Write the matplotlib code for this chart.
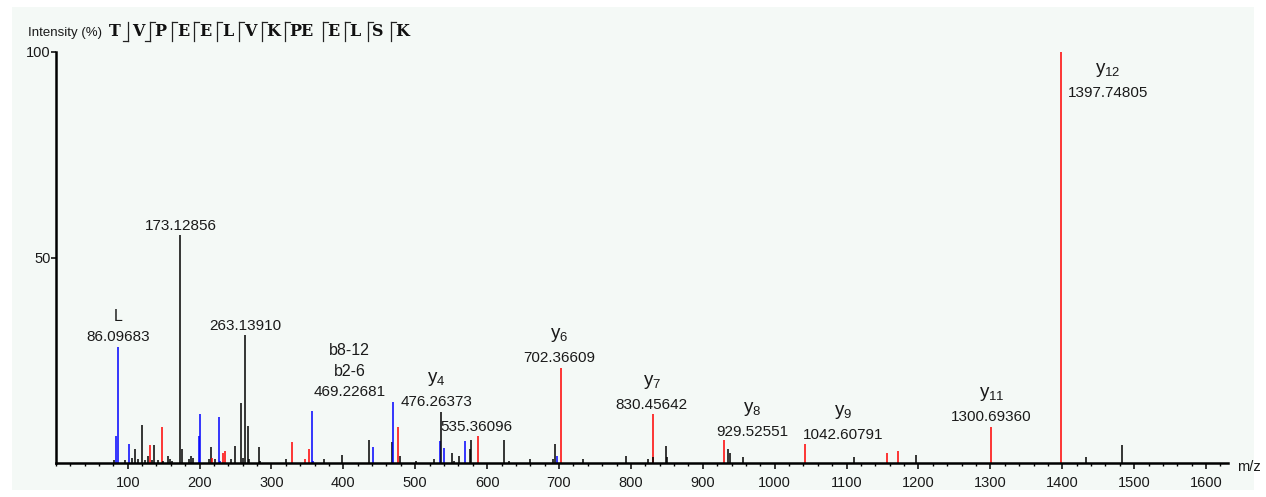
import matplotlib
matplotlib.use("Agg")
import matplotlib.pyplot as plt
from matplotlib.patches import Rectangle
from matplotlib.lines import Line2D
from matplotlib.ticker import MultipleLocator

plt.rcParams['font.family'] = ['Liberation Sans', 'DejaVu Sans']
plt.rcParams['mathtext.fontset'] = 'custom'
plt.rcParams['mathtext.rm'] = 'Liberation Sans'
plt.rcParams['mathtext.it'] = 'Liberation Sans'

# peak list: m/z, relative intensity (%), ion type (b = blue, y = red, o = other)
mz = [81.0, 83.7, 86.1, 95.8, 101.8, 105.5, 110.2, 114.8, 119.9, 124.0,
      127.8, 131.0, 133.8, 136.6, 141.7, 147.7, 149.5, 156.0, 158.9, 161.6,
      173.1, 175.1, 185.7, 188.0, 190.4, 198.7, 201.0, 212.6, 215.9, 217.7,
      221.0, 226.6, 228.9, 233.0, 235.0, 243.3, 249.3, 257.2, 260.4, 263.1,
      266.9, 269.2, 282.2, 284.0, 319.8, 329.0, 347.0, 351.8, 356.8, 358.2,
      373.0, 398.1, 436.1, 441.2, 467.7, 469.2, 476.3, 478.3, 500.6, 525.7,
      533.8, 535.4, 540.4, 551.6, 553.9, 561.3, 569.2, 576.2, 577.6, 587.8,
      623.9, 630.9, 660.0, 692.0, 694.0, 697.2, 702.4, 733.3, 793.6, 824.2,
      830.5, 831.1, 848.8, 850.6, 929.5, 935.5, 937.8, 955.5, 1042.6, 1110.3,
      1155.8, 1171.1, 1196.2, 1300.7, 1397.7, 1432.6, 1482.7]
intensity = [0.7, 6.6, 28.3, 0.7, 4.6, 1.2, 3.3, 1.0, 9.2, 0.7,
             1.8, 4.3, 0.8, 4.3, 0.7, 8.7, 0.6, 1.8, 1.0, 0.6,
             55.5, 3.3, 1.0, 1.8, 1.2, 6.6, 11.9, 1.0, 4.0, 1.3,
             1.0, 11.3, 0.6, 2.5, 2.8, 1.0, 4.1, 14.7, 1.3, 31.1,
             9.0, 1.0, 3.8, 0.6, 1.0, 5.0, 1.0, 3.3, 12.6, 0.6,
             1.0, 2.0, 5.6, 4.0, 5.0, 14.8, 8.8, 1.8, 0.6, 1.0,
             5.4, 12.4, 3.6, 2.4, 0.6, 1.8, 5.4, 3.3, 5.6, 6.6,
             5.6, 0.6, 1.0, 1.0, 4.6, 1.8, 23.2, 1.0, 1.8, 1.0,
             11.9, 1.4, 4.2, 1.4, 5.6, 3.3, 2.4, 1.4, 4.6, 1.4,
             2.4, 2.8, 2.0, 8.8, 100.0, 1.4, 4.4]
ion = ['o', 'b', 'b', 'o', 'b', 'o', 'o', 'o', 'o', 'o',
       'o', 'y', 'o', 'o', 'o', 'y', 'o', 'o', 'o', 'o',
       'o', 'o', 'o', 'o', 'o', 'b', 'b', 'o', 'o', 'y',
       'o', 'b', 'b', 'y', 'y', 'o', 'o', 'o', 'o', 'o',
       'o', 'o', 'o', 'o', 'o', 'y', 'y', 'y', 'b', 'b',
       'o', 'o', 'o', 'b', 'o', 'b', 'y', 'o', 'o', 'o',
       'b', 'o', 'b', 'o', 'o', 'o', 'b', 'o', 'o', 'y',
       'o', 'o', 'o', 'o', 'o', 'b', 'y', 'o', 'o', 'o',
       'y', 'o', 'o', 'o', 'y', 'o', 'o', 'o', 'y', 'o',
       'y', 'y', 'o', 'y', 'y', 'o', 'o']

# annotated peaks
ann_names = ['L', '', '', 'b8-12\nb2-6', 'y4', '', 'y6', 'y7', 'y8', 'y9', 'y11', 'y12']
ann_mass = ['86.09683', '173.12856', '263.13910', '469.22681', '476.26373', '535.36096',
            '702.36609', '830.45642', '929.52551', '1042.60791', '1300.69360', '1397.74805']

sequence = ['T', 'V', 'P', 'E', 'E', 'L', 'V', 'K', 'PE', 'E', 'L', 'S', 'K']
b_break = [True, True, False, False, False, False, False, False, False, False, False, False]
y_break = [False, True, True, True, True, True, True, True, True, True, True, True]

# label layout (data coords: centre of mass text)
lab_x = [86.5, 173.7, 264.2, 409.0, 529.8, 584.5, 700.0, 829.0, 968.4, 1095.4, 1301.8, 1463.6]
lab_y = [30.7, 57.7, 33.3, 17.3, 14.9, 8.8, 25.5, 14.1, 7.6, 6.8, 11.1, 90.0]
# sequence layout (pixels)
seq_x = [115, 138, 160, 183, 205, 228, 250, 273, 301, 333, 355, 378, 402]
mark_x = [128, 150, 172, 194, 217, 239, 262, 285, 323, 345, 368, 391]

colors = {'b': '#0000ff', 'y': '#ff0000', 'o': '#000000'}
W, H = 1266, 497
fig = plt.figure(figsize=(W / 100, H / 100), dpi=100, facecolor='white')
fig.patches.append(Rectangle((12 / W, 7 / H), 1242 / W, 483 / H, transform=fig.transFigure,
                             facecolor='#f4f9f6', edgecolor='none', zorder=-10))

x0, x1, ytop, ybot = 55.8, 1228, 52, 463
ax = fig.add_axes([x0 / W, (H - ybot) / H, (x1 - x0) / W, (ybot - ytop) / H])
ax.set_facecolor('none')
ax.set_xlim(0, (x1 - x0) / 0.7189)
ax.set_ylim(0, 100)

ax.vlines(mz, 0, intensity, colors=[colors[c] for c in ion], linewidth=1.1, zorder=2)

txt = '#1a1a1a'
for name, mass, lx, ly in zip(ann_names, ann_mass, lab_x, lab_y):
    ax.text(lx, ly, mass, ha='center', va='center', fontsize=11, color=txt, zorder=3)
    if not name:
        continue
    if name.startswith('y'):
        s = r'$\mathrm{y}_{' + name[1:] + '}$'
        ax.text(lx, ly + 5.6, s, ha='center', va='center', fontsize=13.5, color=txt)
    else:
        lines = name.split('\n')
        for k, l in enumerate(reversed(lines)):
            ax.text(lx, ly + 5.0 * (k + 1), l, ha='center', va='center', fontsize=11.5, color=txt)

for s in ['top', 'right']:
    ax.spines[s].set_visible(False)
for s in ['left', 'bottom']:
    ax.spines[s].set_linewidth(1.8)
    ax.spines[s].set_zorder(4)

ax.xaxis.set_major_locator(MultipleLocator(100))
ax.xaxis.set_minor_locator(MultipleLocator(20))
ax.set_yticks([50, 100])
ax.set_xticks(range(100, 1700, 100))
ax.tick_params(axis='x', which='major', direction='out', length=4, width=1.1,
               labelsize=10.5, pad=5.5, labelcolor=txt)
ax.tick_params(axis='x', which='minor', direction='out', length=2.5, width=1.0)
ax.tick_params(axis='y', direction='out', length=3.5, width=1.1, labelsize=10.5, pad=0,
               labelcolor=txt)

fig.text(1237 / W, 1 - 467 / H, 'm/z', ha='left', va='center', fontsize=10.5, color=txt)
fig.text(28 / W, 1 - 33 / H, 'Intensity (%)', ha='left', va='center', fontsize=9.5, color=txt)

# peptide sequence with fragment marks
for c, aa in zip(seq_x, sequence):
    fig.text(c / W, 1 - 31.5 / H, aa, ha='center', va='center', fontsize=11.5,
             family='DejaVu Serif', weight='bold', color='#111111')
for i, mx in enumerate(mark_x):
    fig.lines.append(Line2D([mx / W, mx / W], [1 - 22 / H, 1 - 41 / H], transform=fig.transFigure,
                            color='#222222', linewidth=0.9))
    if b_break[i]:
        fig.lines.append(Line2D([(mx - 5) / W, mx / W], [1 - 41 / H, 1 - 41 / H],
                                transform=fig.transFigure, color='#222222', linewidth=0.9))
    if y_break[i]:
        fig.lines.append(Line2D([mx / W, (mx + 5) / W], [1 - 22 / H, 1 - 22 / H],
                                transform=fig.transFigure, color='#222222', linewidth=0.9))

fig.savefig('out.png', dpi=100)
